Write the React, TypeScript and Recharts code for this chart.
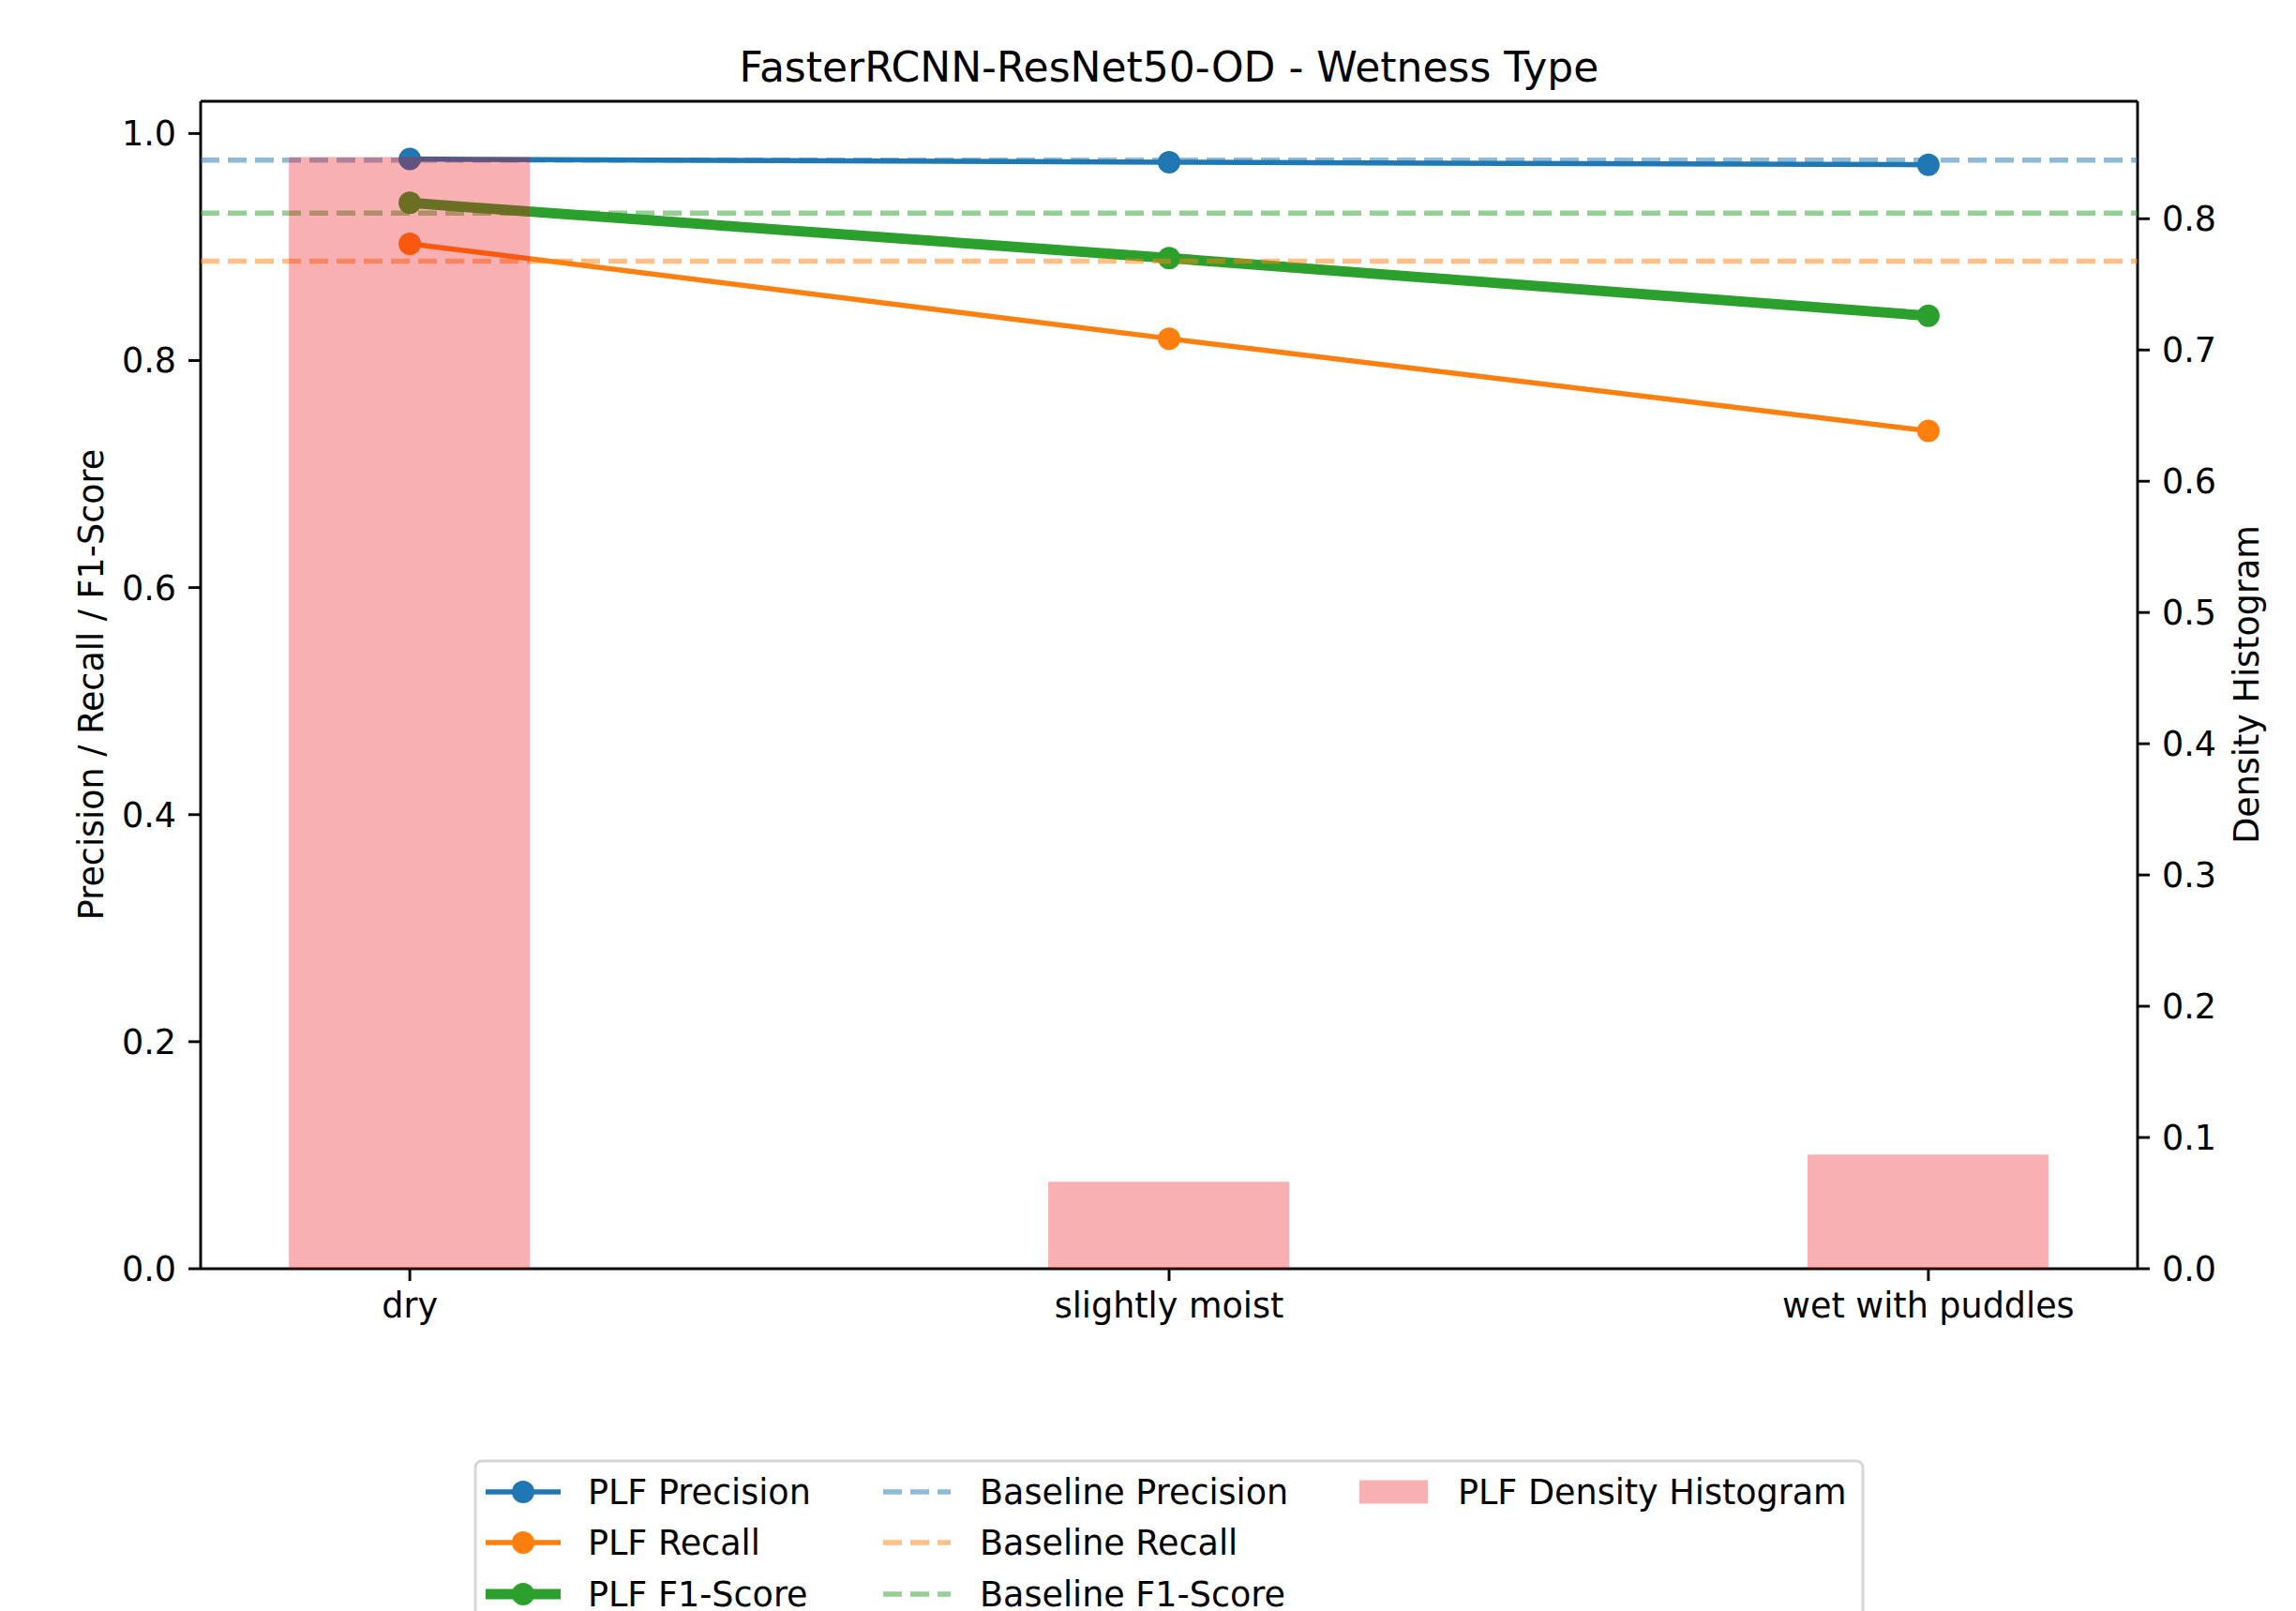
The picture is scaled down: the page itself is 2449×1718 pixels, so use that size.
import React from "react";
import {
  ComposedChart,
  Bar,
  Line,
  XAxis,
  YAxis,
  ReferenceLine,
} from "recharts";

const categories = ["dry", "slightly moist", "wet with puddles"];
const plfPrecision = [0.9775, 0.9747, 0.9725];
const plfRecall = [0.9029, 0.8193, 0.7381];
const plfF1 = [0.9389, 0.8903, 0.8394];
const densityHist = [0.847, 0.0663, 0.0869];

const baselinePrecision = 0.9766;
const baselineRecall = 0.8875;
const baselineF1 = 0.9299;

const leftTicks = [0, 0.2, 0.4, 0.6, 0.8, 1.0];
const rightTicks = [0, 0.1, 0.2, 0.3, 0.4, 0.5, 0.6, 0.7, 0.8];

const BLUE = "#1f77b4";
const ORANGE = "#ff7f0e";
const GREEN = "#2ca02c";
const BAR_RED = "#eb0a14";
const BAR_ALPHA = 0.32;

const W = 2449;
const H = 1718;
const FONT = "'DejaVu Sans', sans-serif";
const FS = 36.5;
const LEFT_MAX = 1.0284;

const data = categories.map((name, i) => ({
  x: i,
  name,
  precision: plfPrecision[i],
  recall: plfRecall[i],
  f1: plfF1[i],
  density: densityHist[i],
}));

const tickStyle = { fontSize: FS, fill: "#000", fontFamily: FONT };
const axisLine = { stroke: "#000", strokeWidth: 2.9 };
const tickLine = { stroke: "#000", strokeWidth: 2.9 };

function LineHandle({ x, y, color, width }: { x: number; y: number; color: string; width: number }) {
  return (
    <g>
      <line x1={x} y1={y} x2={x + 80} y2={y} stroke={color} strokeWidth={width} />
      <circle cx={x + 40} cy={y} r={12} fill={color} />
    </g>
  );
}

function DashHandle({ x, y, color }: { x: number; y: number; color: string }) {
  return (
    <line
      x1={x}
      y1={y}
      x2={x + 72}
      y2={y}
      stroke={color}
      strokeOpacity={0.5}
      strokeWidth={5.5}
      strokeDasharray="20 9"
    />
  );
}

function Overlay() {
  const rows = [1591, 1645, 1700];
  const txt = (x: number, y: number, s: string) => (
    <text x={x} y={y} fontSize={FS} fontFamily={FONT} dominantBaseline="central" fill="#000">
      {s}
    </text>
  );
  return (
    <svg width={W} height={H} style={{ position: "absolute", left: 0, top: 0, pointerEvents: "none" }}>
      <text x={1247} y={87} textAnchor="middle" fontSize={44} fontFamily={FONT} fill="#000">
        FasterRCNN-ResNet50-OD - Wetness Type
      </text>
      <text
        x={97}
        y={730}
        textAnchor="middle"
        dominantBaseline="central"
        fontSize={FS}
        fontFamily={FONT}
        transform="rotate(-90 97 730)"
      >
        Precision / Recall / F1-Score
      </text>
      <text
        x={2396}
        y={730}
        textAnchor="middle"
        dominantBaseline="central"
        fontSize={FS}
        fontFamily={FONT}
        transform="rotate(-90 2396 730)"
      >
        Density Histogram
      </text>

      {/* legend */}
      <rect x={507} y={1558} width={1480} height={200} rx={7} fill="#fff" fillOpacity={0.8} stroke="#d6d6d6" strokeWidth={3} />
      <LineHandle x={518} y={rows[0]} color={BLUE} width={5.5} />
      <LineHandle x={518} y={rows[1]} color={ORANGE} width={5.5} />
      <LineHandle x={518} y={rows[2]} color={GREEN} width={11} />
      {txt(627, rows[0], "PLF Precision")}
      {txt(627, rows[1], "PLF Recall")}
      {txt(627, rows[2], "PLF F1-Score")}
      <DashHandle x={942} y={rows[0]} color={BLUE} />
      <DashHandle x={942} y={rows[1]} color={ORANGE} />
      <DashHandle x={942} y={rows[2]} color={GREEN} />
      {txt(1045, rows[0], "Baseline Precision")}
      {txt(1045, rows[1], "Baseline Recall")}
      {txt(1045, rows[2], "Baseline F1-Score")}
      <rect x={1450} y={rows[0] - 12.5} width={73} height={25} fill={BAR_RED} fillOpacity={BAR_ALPHA} />
      {txt(1555, rows[0], "PLF Density Histogram")}
    </svg>
  );
}

export default function App() {
  return (
    <div style={{ position: "absolute", left: 0, top: 0, width: W, height: H, background: "#fff" }}>
      <ComposedChart width={W} height={H} data={data} margin={{ top: 108, right: 0, bottom: 0, left: 0 }}>
        <XAxis
          dataKey="x"
          type="number"
          domain={[-0.2755, 2.2755]}
          ticks={[0, 1, 2]}
          allowDataOverflow
          tickFormatter={(v: number) => categories[v]}
          tick={tickStyle}
          axisLine={axisLine}
          tickLine={tickLine}
          tickSize={13}
          tickMargin={13}
          height={365}
          interval={0}
        />
        <YAxis
          yAxisId="left"
          domain={[0, LEFT_MAX]}
          ticks={leftTicks}
          allowDataOverflow
          tickFormatter={(v: number) => v.toFixed(1)}
          tick={tickStyle}
          axisLine={axisLine}
          tickLine={tickLine}
          tickSize={13}
          tickMargin={13}
          width={214}
          interval={0}
        />
        <YAxis
          yAxisId="right"
          orientation="right"
          domain={[0, 0.8895]}
          ticks={rightTicks}
          allowDataOverflow
          tickFormatter={(v: number) => v.toFixed(1)}
          tick={tickStyle}
          axisLine={axisLine}
          tickLine={tickLine}
          tickSize={13}
          tickMargin={13}
          width={169}
          interval={0}
        />

        <Line
          yAxisId="left"
          dataKey="precision"
          stroke={BLUE}
          strokeWidth={5.5}
          dot={{ r: 12, fill: BLUE, stroke: "none" }}
          activeDot={false}
          isAnimationActive={false}
        />
        <Line
          yAxisId="left"
          dataKey="recall"
          stroke={ORANGE}
          strokeWidth={5.5}
          dot={{ r: 12, fill: ORANGE, stroke: "none" }}
          activeDot={false}
          isAnimationActive={false}
        />
        <Line
          yAxisId="left"
          dataKey="f1"
          stroke={GREEN}
          strokeWidth={11}
          dot={{ r: 12, fill: GREEN, stroke: "none" }}
          activeDot={false}
          isAnimationActive={false}
        />

        <ReferenceLine yAxisId="left" y={baselinePrecision} stroke={BLUE} strokeOpacity={0.5} strokeWidth={5.5} strokeDasharray="20 9" zIndex={1500} />
        <ReferenceLine yAxisId="left" y={baselineRecall} stroke={ORANGE} strokeOpacity={0.5} strokeWidth={5.5} strokeDasharray="20 9" zIndex={1500} />
        <ReferenceLine yAxisId="left" y={baselineF1} stroke={GREEN} strokeOpacity={0.5} strokeWidth={5.5} strokeDasharray="20 9" zIndex={1500} />

        <Bar
          yAxisId="right"
          dataKey="density"
          fill={BAR_RED}
          fillOpacity={BAR_ALPHA}
          barSize={257}
          zIndex={1600}
          isAnimationActive={false}
        />

        {/* top spine */}
        <ReferenceLine yAxisId="left" y={LEFT_MAX} stroke="#000" strokeWidth={2.9} ifOverflow="visible" zIndex={1700} />
      </ComposedChart>
      <Overlay />
    </div>
  );
}
